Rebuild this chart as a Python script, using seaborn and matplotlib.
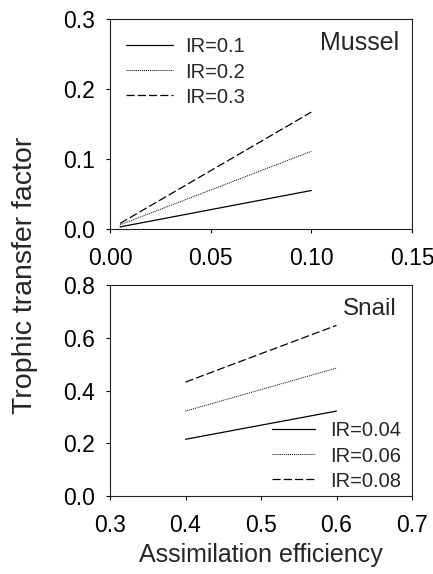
import matplotlib
matplotlib.use("Agg")
import matplotlib.pyplot as plt
import seaborn as sns
import pandas as pd

sns.set_style("ticks")
plt.rcParams['font.family'] = ['Liberation Sans', 'DejaVu Sans']

# Mussel data
mussel_ae = [0.005, 0.1]
mussel_ir01 = [0.003, 0.055]
mussel_ir02 = [0.006, 0.111]
mussel_ir03 = [0.008, 0.167]
mussel_labels = ["IR=0.1", "IR=0.2", "IR=0.3"]

# Snail data
snail_ae = [0.4, 0.6]
snail_ir004 = [0.215, 0.322]
snail_ir006 = [0.322, 0.485]
snail_ir008 = [0.432, 0.647]
snail_labels = ["IR=0.04", "IR=0.06", "IR=0.08"]

styles = ['-', (0, (1, 1)), (0, (6.5, 2.5))]
widths = [0.9, 0.7, 0.9]

W, H = 433, 574
fig = plt.figure(figsize=(W/100, H/100), dpi=100)
ax1 = fig.add_axes([110/W, 1-229/H, 302/W, 210/H])
ax2 = fig.add_axes([110/W, 1-496/H, 302/W, 211/H])

def draw(ax, x, ys, labels):
    for y, lab, ls, lw in zip(ys, labels, styles, widths):
        df = pd.DataFrame({"x": x, "y": y})
        sns.lineplot(data=df, x="x", y="y", ax=ax, color="black",
                     linestyle=ls, linewidth=lw, label=lab)
    for s in ax.spines.values():
        s.set_linewidth(0.8)
        s.set_color("#222222")
    ax.tick_params(direction="out", length=3, width=0.8, labelsize=16.5,
                   colors="black")
    ax.tick_params(axis="x", pad=10)
    ax.tick_params(axis="y", pad=8)
    ax.set_xlabel("")
    ax.set_ylabel("")

draw(ax1, mussel_ae, [mussel_ir01, mussel_ir02, mussel_ir03], mussel_labels)
ax1.set_xlim(0, 0.15)
ax1.set_ylim(0, 0.3)
ax1.set_xticks([0, 0.05, 0.10, 0.15])
ax1.set_xticklabels(["0.00", "0.05", "0.10", "0.15"])
ax1.set_yticks([0, 0.1, 0.2, 0.3])
ax1.set_yticklabels(["0.0", "0.1", "0.2", "0.3"])
ax1.legend(loc="center left", frameon=False, fontsize=14.5, handlelength=2.35,
           handletextpad=0.6, labelspacing=0.3, borderaxespad=0.0, borderpad=0.0,
           bbox_to_anchor=((126-110)/302, (229-72)/210))
ax1.text((399-110)/302, (229-50)/210, "Mussel", transform=ax1.transAxes,
         ha="right", va="baseline", fontsize=18)

draw(ax2, snail_ae, [snail_ir004, snail_ir006, snail_ir008], snail_labels)
ax2.set_xlim(0.3, 0.7)
ax2.set_ylim(0, 0.8)
ax2.set_xticks([0.3, 0.4, 0.5, 0.6, 0.7])
ax2.set_xticklabels(["0.3", "0.4", "0.5", "0.6", "0.7"])
ax2.set_yticks([0, 0.2, 0.4, 0.6, 0.8])
ax2.set_yticklabels(["0.0", "0.2", "0.4", "0.6", "0.8"])
ax2.legend(loc="center left", frameon=False, fontsize=14.5, handlelength=2.15,
           handletextpad=0.75, labelspacing=0.3, borderaxespad=0.0, borderpad=0.0,
           bbox_to_anchor=((272-110)/302, (496-456)/211))
ax2.text((397-110)/302, (496-315)/211, "Snail", transform=ax2.transAxes,
         ha="right", va="baseline", fontsize=17.5)

fig.text(25/W, 1-275/H, "Trophic transfer factor", rotation=90,
         ha="center", va="center", fontsize=20.5)
fig.text(261/W, 1-562/H, "Assimilation efficiency", ha="center",
         va="baseline", fontsize=18)

fig.savefig("out.png", dpi=100)
